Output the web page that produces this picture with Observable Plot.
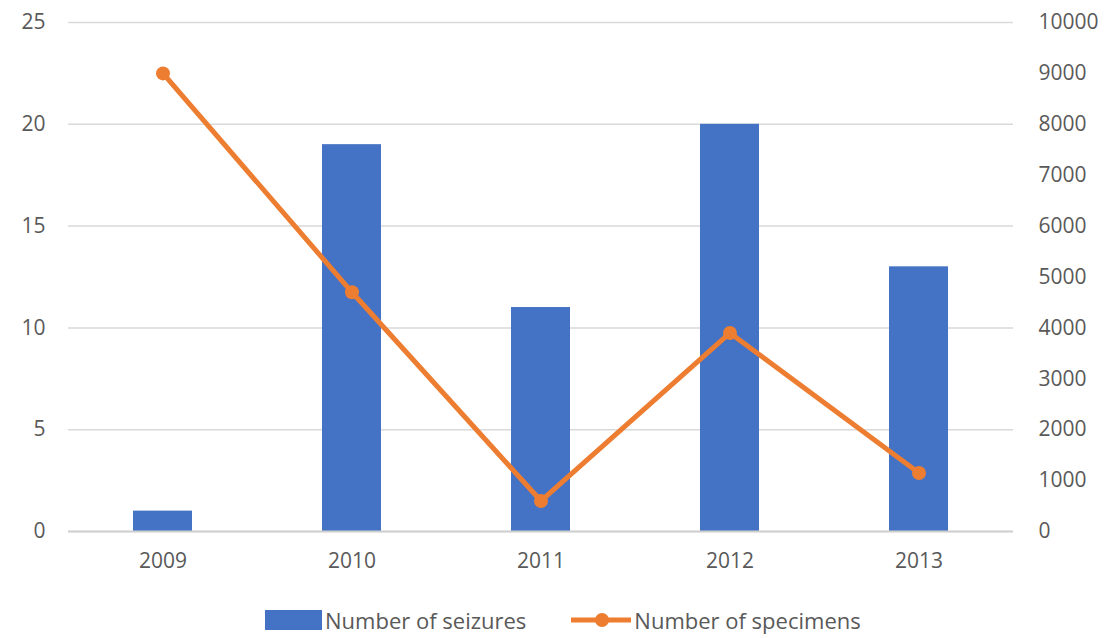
<!DOCTYPE html>
<html><head><meta charset="utf-8">
<script src="https://cdn.jsdelivr.net/npm/d3@7"></script>
<script src="https://cdn.jsdelivr.net/npm/@observablehq/plot@0.6"></script>
<style>
body{margin:0;background:#fff;font-family:"Open Sans",sans-serif;}
#legend{display:flex;justify-content:flex-start;align-items:center;height:48px;color:#595959;font-size:22px;padding-left:265px;padding-top:12px;box-sizing:border-box;}
.item{display:flex;align-items:center;}
</style></head>
<body><div id="chart"></div>
<div id="legend">
 <div class="item"><svg width="60" height="22"><rect x="0" y="1" width="57" height="20" fill="#4472C4"/></svg><span>Number of seizures</span></div>
 <div class="item" style="margin-left:44px"><svg width="64" height="22"><line x1="1" y1="11" x2="61" y2="11" stroke="#ED7D31" stroke-width="5"/><circle cx="32" cy="11" r="7" fill="#ED7D31"/></svg><span>Number of specimens</span></div>
</div>
<script>
const years = ["2009","2010","2011","2012","2013"];
const seizures = [1,19,11,20,13];
const specimens = [9000,4700,600,3900,1150];
const leftTicks = [0,5,10,15,20,25];
const rightTicks = [0,1000,2000,3000,4000,5000,6000,7000,8000,9000,10000];
const ratio = 400; // right axis max 10000 maps to left max 25

const data = years.map((y,i)=>({year:y, seizures:seizures[i], specimens:specimens[i], scaled:specimens[i]/ratio}));
const fs = 21;
const plot = Plot.plot({
  width:1105, height:590,
  marginTop:22, marginBottom:59, marginLeft:68, marginRight:92,
  style:{fontFamily:"'Open Sans', sans-serif", fontSize:fs+"px", color:"#595959", background:"#fff"},
  x:{domain:years, paddingInner:0.69, paddingOuter:0.345, label:null},
  y:{domain:[0,25], label:null},
  marks:[
    Plot.gridY(leftTicks,{stroke:"#d9d9d9", strokeOpacity:1, strokeWidth:1.5}),
    Plot.barY(data,{x:"year", y:"seizures", fill:"#4472C4"}),
    Plot.ruleY([0],{stroke:"#d0d0d0", strokeWidth:2}),
    Plot.axisX({tickSize:0, tickPadding:22, label:null, fill:"#595959", fontSize:fs}),
    Plot.axisY(leftTicks,{anchor:"left", tickSize:0, tickPadding:23, label:null, fill:"#595959", fontSize:fs}),
    Plot.axisY(rightTicks.map(d=>d/ratio),{anchor:"right", tickSize:0, tickPadding:25, label:null, fill:"#595959", fontSize:fs, tickFormat:d=>String(Math.round(d*ratio)), textAnchor:"start"}),
    Plot.line(data,{x:"year", y:"scaled", stroke:"#ED7D31", strokeWidth:5}),
    Plot.dot(data,{x:"year", y:"scaled", r:7, fill:"#ED7D31"})
  ]
});
document.getElementById("chart").appendChild(plot);
</script></body></html>
